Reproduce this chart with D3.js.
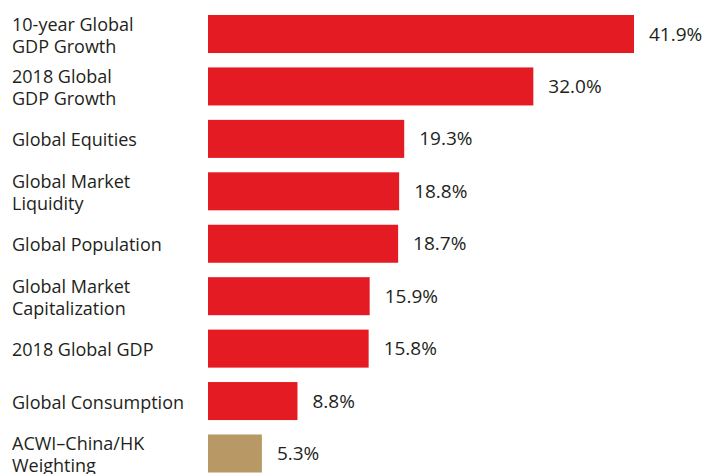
<!DOCTYPE html>
<html>
<head>
<meta charset="utf-8">
<script src="https://cdn.jsdelivr.net/npm/d3@7"></script>
<style>
  html, body { margin: 0; padding: 0; background: #fff; }
  svg { display: block; }
  text { font-family: "Open Sans", "Noto Sans", sans-serif; fill: #231f20; }
</style>
</head>
<body>
<svg id="chart" width="717" height="474"></svg>
<script>
// Category labels (line breaks as drawn), values in percent, bar colours
const categories = [
  ["10-year Global", "GDP Growth"],
  ["2018 Global", "GDP Growth"],
  ["Global Equities"],
  ["Global Market", "Liquidity"],
  ["Global Population"],
  ["Global Market", "Capitalization"],
  ["2018 Global GDP"],
  ["Global Consumption"],
  ["ACWI\u2013China/HK", "Weighting"]
];
const values = [41.9, 32.0, 19.3, 18.8, 18.7, 15.9, 15.8, 8.8, 5.3];
const colors = ["#e41b23", "#e41b23", "#e41b23", "#e41b23", "#e41b23", "#e41b23", "#e41b23", "#e41b23", "#b89865"];

const svg = d3.select("#chart");
const barLeft = 208;
const labelSize = 18;
const valueSize = 19;

const x = d3.scaleLinear().domain([0, 41.9]).range([barLeft, 634]);
const y = d3.scaleBand()
  .domain(d3.range(values.length))
  .range([15, 472.5])
  .paddingInner(0.275)
  .paddingOuter(0);

const rows = svg.selectAll("g.row")
  .data(values.map((v, i) => ({ v, i, label: categories[i], color: colors[i] })))
  .join("g")
  .attr("class", "row");

rows.append("rect")
  .attr("x", x(0))
  .attr("y", d => y(d.i))
  .attr("width", d => x(d.v) - x(0))
  .attr("height", y.bandwidth())
  .attr("fill", d => d.color);

rows.append("text")
  .attr("x", d => x(d.v) + 15)
  .attr("y", d => y(d.i) + y.bandwidth() / 2 + 6.5)
  .attr("font-size", valueSize)
  .text(d => d.v.toFixed(1) + "%");

rows.each(function (d) {
  const g = d3.select(this);
  const c = y(d.i) + y.bandwidth() / 2;
  const lines = d.label;
  const first = lines.length === 1 ? c + 7.5 : c - 3.5;
  lines.forEach((ln, k) => {
    g.append("text")
      .attr("x", 12)
      .attr("y", first + k * 22)
      .attr("font-size", labelSize)
      .text(ln);
  });
});
</script>
</body>
</html>
